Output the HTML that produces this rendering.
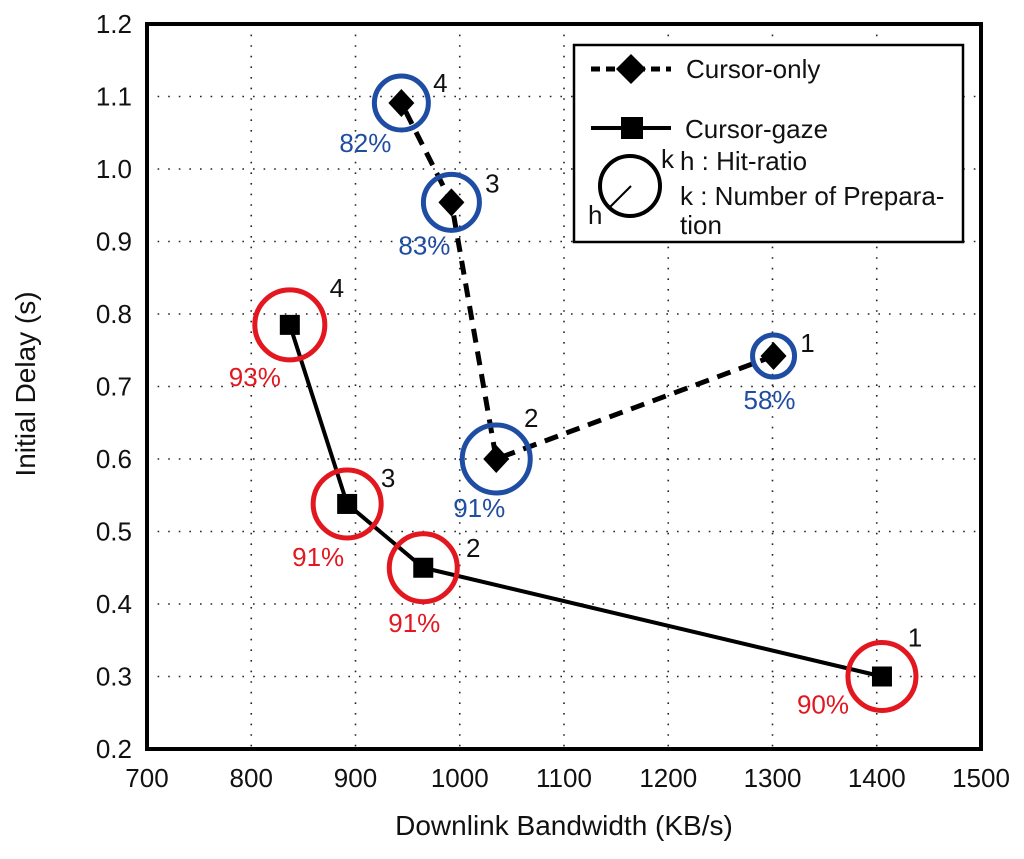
<!DOCTYPE html>
<html><head><meta charset="utf-8"><style>
html,body{margin:0;padding:0;background:#fff;}
svg text{font-family:"Liberation Sans",Arial,sans-serif;}
</style></head><body>
<svg id="chart" width="1024" height="854" viewBox="0 0 1024 854" xmlns="http://www.w3.org/2000/svg">
<g id="grid"></g>
<g id="axes"></g>
<g id="series"></g>
<text x="564" y="835" font-size="28" text-anchor="middle" fill="#111">Downlink Bandwidth (KB/s)</text>
<text transform="translate(35,384) rotate(-90)" font-size="28" text-anchor="middle" fill="#111">Initial Delay (s)</text>
<g>
<rect x="574" y="45" width="389" height="197" fill="#fff" stroke="#000" stroke-width="2.5"/>
<g>
<line x1="591" y1="69" x2="671" y2="69" stroke="#000" stroke-width="5" stroke-dasharray="9,6"/>
<polygon points="631,54 646,69 631,84 616,69" fill="#000"/>
<text x="686" y="78" font-size="26" fill="#111">Cursor-only</text>
</g>
<g>
<line x1="591" y1="128" x2="671" y2="128" stroke="#000" stroke-width="4"/>
<rect x="621" y="117" width="22" height="22" fill="#000"/>
<text x="685" y="138" font-size="26" fill="#111">Cursor-gaze</text>
</g>
<g>
<circle cx="630" cy="186" r="30" fill="none" stroke="#000" stroke-width="4"/>
<line x1="610" y1="207" x2="631" y2="186" stroke="#000" stroke-width="2"/>
<text x="661" y="168" font-size="26" fill="#111">k</text>
<text x="588" y="224" font-size="26" fill="#111">h</text>
<text x="680" y="170" font-size="26" fill="#111">h : Hit-ratio</text>
<text x="680" y="205" font-size="26" fill="#111">k : Number of Prepara-</text>
<text x="680" y="234" font-size="26" fill="#111">tion</text>
</g>
</g>
</svg>
<script>
const xTicks = [700, 800, 900, 1000, 1100, 1200, 1300, 1400, 1500];
const yTicks = [0.2, 0.3, 0.4, 0.5, 0.6, 0.7, 0.8, 0.9, 1.0, 1.1, 1.2];
const yTickLabels = ["0.2","0.3","0.4","0.5","0.6","0.7","0.8","0.9","1.0","1.1","1.2"];
const onlyX = [1301, 1035, 992, 944];
const onlyY = [0.742, 0.6, 0.954, 1.091];
const onlyHit = ["58%", "91%", "83%", "82%"];
const gazeX = [1405, 965, 892, 837];
const gazeY = [0.3, 0.45, 0.538, 0.785];
const gazeHit = ["90%", "91%", "91%", "93%"];
const prepK = ["1", "2", "3", "4"];

const L = 147, R = 981, T = 24, B = 749;
const xs = v => L + (v - 700) / 800 * (R - L);
const ys = v => B - (v - 0.2) / 1.0 * (B - T);
const NS = "http://www.w3.org/2000/svg";
function mk(tag, attrs, parent) {
  const e = document.createElementNS(NS, tag);
  for (const k in attrs) e.setAttribute(k, attrs[k]);
  parent.appendChild(e);
  return e;
}
const grid = document.getElementById('grid');
const axes = document.getElementById('axes');
const series = document.getElementById('series');

xTicks.forEach((t, i) => {
  const x = xs(t);
  if (i > 0 && i < xTicks.length - 1) {
    const g = mk('line', {x1:x, y1:T, x2:x, y2:B, stroke:'#222', 'stroke-width':1.6, 'stroke-dasharray':'1.6,9'}, grid);
    
    
  }
  const tx = mk('text', {x:x, y:787, 'font-size':26, 'text-anchor':'middle', fill:'#111'}, axes);
  tx.textContent = t;
  
  
});
yTicks.forEach((t, i) => {
  const y = ys(t);
  if (i > 0 && i < yTicks.length - 1) {
    const g = mk('line', {x1:L, y1:y, x2:R, y2:y, stroke:'#222', 'stroke-width':1.6, 'stroke-dasharray':'1.6,9'}, grid);
    
    
  }
  const tx = mk('text', {x:132, y:y + 9, 'font-size':26, 'text-anchor':'end', fill:'#111'}, axes);
  tx.textContent = yTickLabels[i];
  
  
});
const frame = mk('rect', {x:L, y:T, width:R-L, height:B-T, fill:'none', stroke:'#000', 'stroke-width':4}, axes);



// label offsets (style only)
const gazeOff = [[33,-39,-59,28],[50,-20,-9,55],[41,-26,-29,53],[47,-37,-35,52]];
const onlyOff = [[34,-13,-4,44],[35,-41,-17,49],[41,-19,-27,43],[39,-20,-36,40]];
const onlyR = [21, 34, 28, 27];

function drawSeries(X, Y, hits, color, radii, off, dashed, marker, name) {
  const g = mk('g', {}, series);
  
  
  const pts = X.map((x, i) => xs(x) + ',' + ys(Y[i])).join(' ');
  const pl = mk('polyline', {points:pts, fill:'none', stroke:'#000', 'stroke-width':dashed?5:4, 'stroke-dasharray':dashed?'14,9':'none'}, g);
  
  
  X.forEach((x, i) => {
    const cx = xs(x), cy = ys(Y[i]);
    const c = mk('circle', {cx:cx, cy:cy, r:radii[i], fill:'none', stroke:color, 'stroke-width':5}, g);
    
    
    let m;
    if (marker === 'square') {
      m = mk('rect', {x:cx-10, y:cy-10, width:20, height:20, fill:'#000'}, g);
    } else {
      m = mk('polygon', {points:`${cx},${cy-14} ${cx+13},${cy} ${cx},${cy+14} ${cx-13},${cy}`, fill:'#000'}, g);
    }
    
    
    const o = off[i];
    const k = mk('text', {x:cx+o[0], y:cy+o[1]+9, 'font-size':26, 'text-anchor':'middle', fill:'#111'}, g);
    k.textContent = prepK[i];
    
    
    const h = mk('text', {x:cx+o[2], y:cy+o[3]+9, 'font-size':26, 'text-anchor':'middle', fill:color}, g);
    h.textContent = hits[i];
    
    
  });
}
drawSeries(gazeX, gazeY, gazeHit, '#e2171f', [34,34,34,35], gazeOff, false, 'square', 'cursor-gaze');
drawSeries(onlyX, onlyY, onlyHit, '#1f4da3', onlyR, onlyOff, true, 'diamond', 'cursor-only');
</script>
</body></html>
